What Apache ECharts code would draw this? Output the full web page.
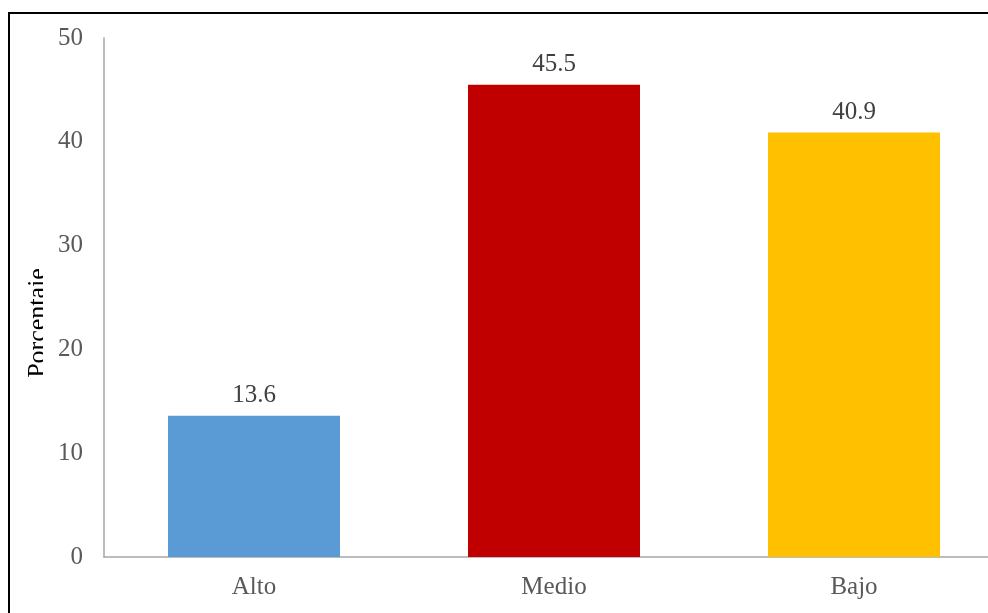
<!DOCTYPE html>
<html>
<head>
<meta charset="utf-8">
<script src="https://cdn.jsdelivr.net/npm/echarts@6/dist/echarts.min.js"></script>
<style>
  html, body { margin: 0; padding: 0; background: #fff; }
  #chart { width: 988px; height: 613px; }
</style>
</head>
<body>
<div id="chart"></div>
<script>
// datos del gráfico
var categorias = ['Alto', 'Medio', 'Bajo'];
var porcentajes = [13.6, 45.5, 40.9];
var colores = ['#5B9BD5', '#C00000', '#FFC000'];
var ticksY = [0, 10, 20, 30, 40, 50];

var chart = echarts.init(document.getElementById('chart'));

var fuente = '"Liberation Serif", "Times New Roman", serif';

var datos = porcentajes.map(function (v, i) {
    return { value: v, itemStyle: { color: colores[i] } };
});

var option = {
    animation: false,
    grid: { left: 104, width: 900, top: 38, bottom: 56, outerBoundsMode: 'none' },
    graphic: [
        {
            type: 'text',
            x: 25,
            y: 323,
            rotation: Math.PI / 2,
            style: {
                text: 'Porcentaje',
                font: '26px ' + fuente,
                fill: '#000',
                align: 'center',
                verticalAlign: 'top'
            },
            z: 10
        },
        {
            // el título del eje aparece recortado en el original
            type: 'rect',
            shape: { x: 43, y: 260, width: 13, height: 126 },
            style: { fill: '#fff' },
            z: 20
        },
        {
            type: 'rect',
            shape: { x: 9, y: 13, width: 1000, height: 620 },
            style: { fill: 'none', stroke: '#000', lineWidth: 2 },
            z: 100
        }
    ],
    xAxis: {
        type: 'category',
        data: categorias,
        axisLine: { lineStyle: { color: '#a6a6a6', width: 1.5 } },
        axisTick: { show: false },
        axisLabel: { color: '#595959', fontFamily: fuente, fontSize: 25, margin: 18 }
    },
    yAxis: {
        type: 'value',
        min: ticksY[0],
        max: ticksY[ticksY.length - 1],
        interval: 10,
        axisLine: { show: true, lineStyle: { color: '#a6a6a6', width: 1.5 } },
        axisTick: { show: false },
        splitLine: { show: false },
        axisLabel: { color: '#595959', fontFamily: fuente, fontSize: 25, margin: 21 }
    },
    series: [
        {
            type: 'bar',
            data: datos,
            barWidth: 172,
            label: {
                show: true,
                position: 'top',
                distance: 8,
                color: '#404040',
                fontFamily: fuente,
                fontSize: 25,
                formatter: function (p) { return p.value.toFixed(1); }
            }
        }
    ]
};

chart.setOption(option);
</script>
</body>
</html>
